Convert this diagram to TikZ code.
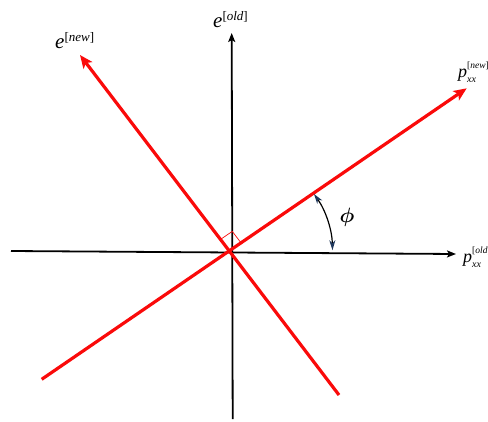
\documentclass[tikz,border=0pt]{standalone}
\usepackage{bm}
\usepackage{fontspec}
\setmainfont{Liberation Serif}
\usetikzlibrary{arrows.meta,calc}
\definecolor{arcblue}{RGB}{50,90,150}
\definecolor{axred}{RGB}{250,10,10}
\newcommand{\elab}[1]{{\fontsize{21}{21}\selectfont\itshape e}\raisebox{7pt}{\fontsize{13}{13}\selectfont[\textit{#1}]}}
\newcommand{\plab}[1]{{\fontsize{18}{18}\selectfont\itshape p}\makebox[0pt][l]{\raisebox{-5pt}{\fontsize{10}{10}\selectfont\itshape xx}}\raisebox{9pt}{\fontsize{9.5}{9.5}\selectfont[\textit{#1}]}}
\tikzset{
  axisline/.style={line width=1.8pt, black, -{Stealth[length=9pt,width=7pt,inset=2pt]}},
  redline/.style={line width=3.2pt, axred, -{Stealth[length=13pt,width=11pt,inset=3pt]}},
  rightmark/.style={line width=0.7pt, axred},
  arcline/.style={line width=1.2pt, black,
    {Stealth[length=10pt,width=6pt,inset=3pt,fill=arcblue,color=arcblue!60!black]}-{Stealth[length=10pt,width=6pt,inset=3pt,fill=arcblue,color=arcblue!60!black]}},
  lab/.style={inner sep=0pt, anchor=base west}
}
\begin{document}
\begin{tikzpicture}[x=1pt,y=-1pt]
\useasboundingbox (0,0) rectangle (488,421);
\clip (0,0) rectangle (488,421);
% axes
\coordinate (hx0) at (11,251);
\coordinate (hx1) at (456,254);
\coordinate (vy0) at (232.7,419);
\coordinate (vy1) at (231.7,33);
\draw[axisline] (hx0) -- (hx1);
\draw[axisline] (vy0) -- (vy1);
% red rotated axes
\coordinate (r1s) at (41.7,379.3);
\coordinate (r1e) at (466.7,88.3);
\coordinate (r2s) at (339,395);
\coordinate (r2e) at (80,55);
\coordinate (O) at (229.2,250.4);
\draw[redline] (r1s) -- (r1e);
\draw[redline] (r2s) -- (r2e);
% right angle mark
\coordinate (q1) at ($(O)!14pt!(r1e)$);
\coordinate (q2) at ($(O)!14pt!(r2e)$);
\coordinate (q3) at ($(q1)+(q2)-(O)$);
\draw[rightmark] (q1) -- (q3) -- (q2);
% angle arc
\coordinate (C) at (232.5,252);
\draw[arcline] ($(C)+(-1:100)$) arc[start angle=-1, end angle=-35.5, radius=100];
\node[inner sep=0pt] (phi) at (347,217) {\fontsize{21}{21}\selectfont$\bm{\phi}$};
% labels
\node[lab] (enew) at (55,48) {\elab{new}};
\node[lab] (eold) at (213,27) {\elab{old}};
\node[lab] (pnew) at (458,77) {\plab{new}};
\node[lab] (pold) at (463,262) {\plab{old}};
\end{tikzpicture}
\end{document}
